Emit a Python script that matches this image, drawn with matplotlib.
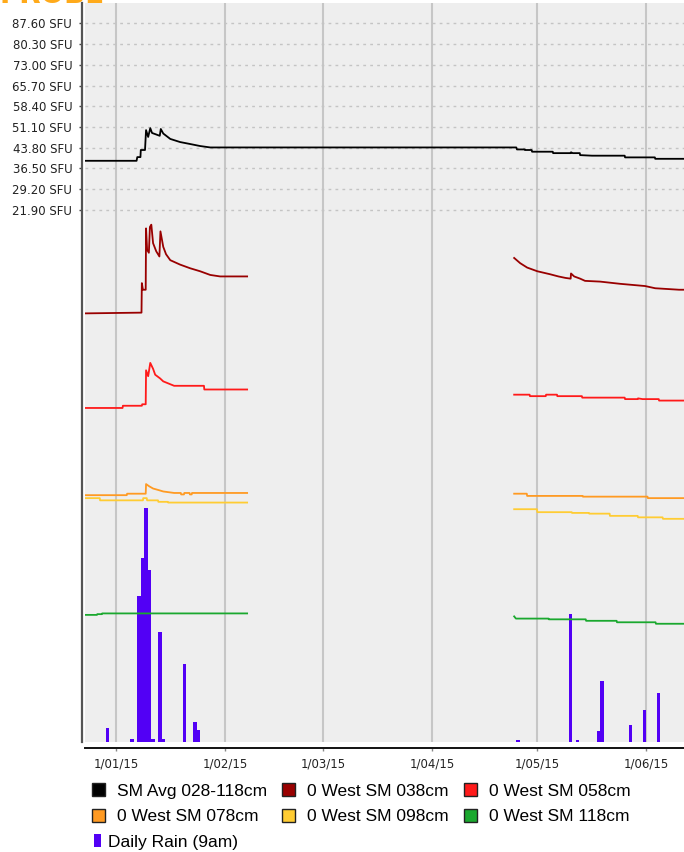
import numpy as np
import pandas as pd
import matplotlib
matplotlib.use('Agg')
import matplotlib.pyplot as plt
from matplotlib.patches import Patch

start = pd.Timestamp('2015-01-01')

# days since 1 Jan 2015
avg_days = [-8.9, 5.8, 6.0, 6.9, 7.0, 8.2, 8.5, 9.1, 9.7, 10.2, 11.1, 12.4, 12.7, 13.4, 15.4, 18.2, 21.1, 23.9,
            26.8, 114.0, 114.2, 116.4, 116.5, 118.4, 118.5, 124.4, 124.5, 129.5, 129.6, 130.1, 132.1, 132.2,
            135.6, 144.9, 145.0, 153.5, 153.6, 161.8]
avg_vals = [39.2, 39.2, 40.5, 40.5, 43.0, 43.0, 50.0, 47.6, 50.7, 49.0, 48.6, 48.0, 50.4, 48.8, 46.9, 45.8, 45.1, 44.4,
            43.9, 43.9, 43.2, 43.2, 43.0, 43.0, 42.4, 42.4, 41.9, 41.9, 42.2, 41.9, 41.9, 41.2,
            41.0, 41.0, 40.4, 40.4, 39.9, 39.9]

# the probe depths are drawn on their own (hidden) relative scale
sm038_days = [-8.9, 7.2, 7.3, 7.6, 8.4, 8.5, 8.8, 9.3, 9.6, 10.0, 10.5, 11.4, 12.3, 12.6, 13.4, 14.2, 15.4, 16.8,
              18.2, 21.1, 23.9, 26.8, 29.6, 37.3, 37.4,
              113.4, 115.1, 117.1, 120.0, 123.6, 126.0, 128.0, 129.5, 129.6, 130.5, 132.2, 133.6, 137.9, 143.6,
              150.7, 153.6, 160.4, 161.8]
sm038_vals = [58.0, 58.1, 62.1, 61.2, 61.2, 69.5, 66.6, 66.2, 69.7, 70.0, 67.5, 66.4, 65.7, 69.1, 67.0, 66.0, 65.2, 64.9,
              64.6, 64.1, 63.7, 63.2, 63.0, 63.0, np.nan,
              65.5, 64.8, 64.2, 63.7, 63.3, 63.0, 62.8, 62.7, 63.4, 63.0, 62.7, 62.4, 62.3, 62.0,
              61.7, 61.4, 61.2, 61.2]

sm058_days = [-8.9, 1.8, 1.9, 7.3, 7.4, 8.4, 8.5, 9.1, 9.7, 10.5, 11.1, 12.5, 13.4, 16.5, 25.0, 25.1, 37.3, 37.4,
              113.4, 117.8, 117.9, 122.4, 122.5, 125.6, 125.7, 132.7, 132.8, 144.9, 145.0, 148.6, 148.7, 150.0,
              154.6, 154.7, 161.8]
sm058_vals = [45.2, 45.2, 45.5, 45.5, 45.7, 45.7, 50.3, 49.5, 51.3, 50.5, 49.7, 49.2, 48.8, 48.2, 48.2, 47.7, 47.7, np.nan,
              47.0, 47.0, 46.8, 46.8, 47.0, 47.0, 46.8, 46.8, 46.6, 46.6, 46.4, 46.4, 46.5, 46.4,
              46.4, 46.2, 46.2]

sm078_days = [-8.9, 3.0, 3.1, 8.4, 8.5, 9.4, 10.5, 12.0, 13.4, 16.5, 18.4, 18.5, 19.3, 19.4, 20.9, 21.0, 21.5, 21.6,
              37.3, 37.4,
              113.4, 117.0, 117.1, 132.9, 133.0, 151.4, 151.5, 161.8]
sm078_vals = [33.4, 33.4, 33.6, 33.6, 34.9, 34.6, 34.3, 34.1, 33.9, 33.7, 33.7, 33.5, 33.5, 33.7, 33.7, 33.5, 33.5, 33.7,
              33.7, np.nan,
              33.6, 33.6, 33.3, 33.3, 33.2, 33.2, 33.0, 33.0]

sm098_days = [-8.9, -4.7, -4.6, 7.6, 7.7, 8.7, 8.8, 11.9, 12.0, 14.7, 14.8, 37.3, 37.4,
              113.4, 119.9, 120.0, 129.8, 129.9, 134.7, 134.8, 140.6, 140.7, 148.6, 148.7, 155.7, 155.8, 161.8]
sm098_vals = [33.0, 33.0, 32.7, 32.7, 33.0, 33.0, 32.7, 32.7, 32.5, 32.5, 32.4, 32.4, np.nan,
              31.5, 31.5, 31.1, 31.1, 31.0, 31.0, 30.9, 30.9, 30.6, 30.6, 30.4, 30.4, 30.2, 30.2]

sm118_days = [-8.9, -5.5, -5.4, -4.1, -4.0, 37.3, 37.4,
              113.4, 113.9, 123.2, 123.3, 133.8, 133.9, 142.6, 142.7, 153.7, 153.8, 161.8]
sm118_vals = [17.2, 17.2, 17.3, 17.3, 17.4, 17.4, np.nan,
              17.0, 16.7, 16.7, 16.6, 16.6, 16.4, 16.4, 16.2, 16.2, 16.0, 16.0]

rain_days = [-3, 4, 6, 7, 8, 9, 10, 12, 13, 19, 22, 23, 114, 129, 131, 137, 138, 146, 150, 154]
rain_mm = [1.9, 0.4, 19.8, 24.9, 31.7, 23.3, 0.4, 14.9, 0.4, 10.6, 2.7, 1.6,
           0.3, 17.3, 0.3, 1.5, 8.3, 2.3, 4.3, 6.6]

y_ticks = [21.9, 29.2, 36.5, 43.8, 51.1, 58.4, 65.7, 73.0, 80.3, 87.6]
month_ticks = ['2015-01-01', '2015-02-01', '2015-03-01', '2015-04-01', '2015-05-01', '2015-06-01']
month_labels = ['1/01/15', '1/02/15', '1/03/15', '1/04/15', '1/05/15', '1/06/15']

series = [
    ('SM Avg 028-118cm', '#000000'),
    ('0 West SM 038cm', '#990000'),
    ('0 West SM 058cm', '#ff1a1a'),
    ('0 West SM 078cm', '#ff9a22'),
    ('0 West SM 098cm', '#ffcc33'),
    ('0 West SM 118cm', '#1aa82e'),
]
rain_color = '#5200f5'


def to_dates(days):
    return start + pd.to_timedelta(np.array(days, dtype=float), unit='D')


fig = plt.figure(figsize=(6.84, 8.52), dpi=100)
ax = fig.add_axes([85 / 684, 1 - 742 / 852, 599 / 684, 739 / 852])
ax.set_facecolor('#eeeeee')

ax3 = ax.twinx()
ax3.set_axis_off()
ax2 = ax.twinx()
ax2.set_axis_off()

ax3.bar(to_dates(rain_days), rain_mm, width=0.95, align='edge', color=rain_color, linewidth=0)
ax3.set_ylim(0, 100)

ax.plot(to_dates(avg_days), avg_vals, color=series[0][1], lw=1.3)
for (name, col), d, v in zip(series[1:],
                             [sm038_days, sm058_days, sm078_days, sm098_days, sm118_days],
                             [sm038_vals, sm058_vals, sm078_vals, sm098_vals, sm118_vals]):
    ax2.plot(to_dates(d), v, color=col, lw=1.3)
ax2.set_ylim(0, 100)

ax.set_ylim(-165.4, 94.75)
ax.set_xlim(to_dates([-8.9])[0], to_dates([161.8])[0])

ax.set_yticks(y_ticks)
ax.set_yticklabels(['%.2f SFU' % t for t in y_ticks])
ax.set_xticks(pd.to_datetime(month_ticks))
ax.set_xticklabels(month_labels)

ax.grid(axis='y', color='#c4c4c4', linestyle=(0, (2, 3)), lw=1)
ax.grid(axis='x', color='#c6c6c6', linestyle='-', lw=1.5)
ax.set_axisbelow(True)

for s in ['top', 'right']:
    ax.spines[s].set_visible(False)
ax.spines['left'].set_position(('outward', 2.2))
ax.spines['left'].set_color('#555555')
ax.spines['left'].set_linewidth(1.6)
ax.spines['bottom'].set_position(('outward', 4.5))
ax.spines['bottom'].set_color('#111111')
ax.spines['bottom'].set_linewidth(1.4)
ax.tick_params(axis='y', length=2.5, width=1, color='#444444', labelsize=8.5, pad=4.5, labelcolor='#222222')
ax.tick_params(axis='x', length=2.5, width=1, color='#888888', labelsize=8.5, pad=4.5, labelcolor='#222222')

fig.text(0.0, 1 - 3 / 852, 'PROBE', color='#ffaa1a', fontsize=20, fontweight='bold', va='baseline')

font = {'family': 'Liberation Sans', 'size': 12.5}
handles = [Patch(facecolor=c, edgecolor='#222222', linewidth=1) for _, c in series]
labels = [n for n, _ in series]
order = [0, 3, 1, 4, 2, 5]
leg = fig.legend([handles[i] for i in order], [labels[i] for i in order], ncol=3,
                 loc='upper left', bbox_to_anchor=(80 / 684, 1 - 771 / 852), frameon=False,
                 prop=font, handlelength=0.75, handleheight=0.75,
                 handletextpad=0.7, columnspacing=0.85, labelspacing=0.6, borderpad=0.2)
leg2 = fig.legend([Patch(facecolor=rain_color, edgecolor='none')], ['Daily Rain (9am)'],
                  loc='upper left', bbox_to_anchor=(82 / 684, 1 - 822 / 852), frameon=False,
                  prop=font, handlelength=0.4, handleheight=0.8,
                  handletextpad=0.4, borderpad=0.2)

fig.savefig('out.png', dpi=100)
